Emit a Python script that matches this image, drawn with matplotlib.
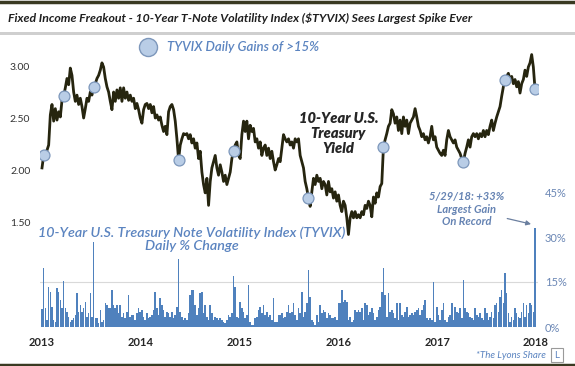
import numpy as np
import matplotlib
matplotlib.use("Agg")
import matplotlib.pyplot as plt
from matplotlib.lines import Line2D
from matplotlib.patches import Rectangle

plt.rcParams["font.family"] = ["Lato", "DejaVu Sans"]

# 10-year yield, roughly weekly (May 2013 -> May 2018)
yield_2013_14 = [
    2.02, 2.14, 2.11, 2.19, 2.24, 2.53, 2.63, 2.47, 2.59, 2.48, 2.56, 2.51, 2.67, 2.71, 2.79, 2.88, 2.82,
    2.98, 2.91, 2.75, 2.66, 2.72, 2.63, 2.69, 2.61, 2.50, 2.59, 2.69, 2.66, 2.75, 2.72, 2.80, 2.83, 2.88,
    2.91, 2.96, 3.03, 2.99, 2.88, 2.80, 2.75, 2.66, 2.58, 2.75, 2.66, 2.77, 2.69, 2.79, 2.66, 2.79, 2.69,
    2.75, 2.67, 2.72, 2.66, 2.69, 2.59, 2.64, 2.58, 2.50, 2.45, 2.58, 2.63, 2.64, 2.59, 2.63, 2.55, 2.61,
    2.50, 2.53, 2.48, 2.51, 2.43, 2.37, 2.42, 2.34, 2.56, 2.61, 2.63, 2.58, 2.47, 2.30, 2.10, 2.24, 2.30,
    2.35, 2.34, 2.35, 2.30, 2.34, 2.26, 2.30, 2.21, 2.26, 2.11, 2.18, 1.98, 1.86, 1.78,
]
yield_2015_16 = [
    1.92, 1.66, 1.89, 2.02, 2.08, 2.14, 2.02, 1.95, 2.05, 1.98, 1.89, 1.95, 1.86, 1.92, 1.98, 2.11, 2.18,
    2.24, 2.27, 2.14, 2.11, 2.34, 2.47, 2.37, 2.47, 2.30, 2.43, 2.37, 2.40, 2.27, 2.30, 2.21, 2.27, 2.14,
    2.21, 2.24, 2.14, 2.21, 2.11, 2.18, 2.08, 2.00, 2.05, 2.11, 2.08, 2.21, 2.34, 2.30, 2.27, 2.30, 2.24,
    2.27, 2.21, 2.30, 2.27, 2.30, 2.14, 2.08, 2.02, 1.89, 1.82, 1.73, 1.65, 1.79, 1.92, 1.86, 1.95, 1.89,
    1.92, 1.82, 1.89, 1.86, 1.76, 1.89, 1.79, 1.82, 1.73, 1.79, 1.70, 1.76, 1.66, 1.60, 1.70, 1.66, 1.54,
    1.38, 1.54, 1.60, 1.54, 1.60, 1.54, 1.57, 1.54, 1.60, 1.57, 1.66, 1.63, 1.70, 1.66,
]
yield_2017_18 = [
    1.55, 1.74, 1.68, 1.78, 1.74, 1.84, 1.87, 2.22, 2.29, 2.35, 2.42, 2.45, 2.58, 2.54, 2.45, 2.51, 2.38,
    2.48, 2.35, 2.51, 2.42, 2.48, 2.35, 2.45, 2.48, 2.51, 2.59, 2.51, 2.42, 2.38, 2.32, 2.35, 2.29, 2.32,
    2.26, 2.32, 2.42, 2.29, 2.32, 2.22, 2.19, 2.16, 2.14, 2.19, 2.14, 2.29, 2.38, 2.32, 2.29, 2.26, 2.29,
    2.22, 2.19, 2.16, 2.11, 2.08, 2.16, 2.22, 2.29, 2.22, 2.32, 2.35, 2.32, 2.35, 2.30, 2.35, 2.32, 2.38,
    2.32, 2.38, 2.34, 2.42, 2.48, 2.38, 2.45, 2.51, 2.56, 2.61, 2.71, 2.80, 2.87, 2.90, 2.93, 2.87, 2.90,
    2.83, 2.87, 2.80, 2.85, 2.74, 2.83, 2.87, 2.96, 2.90, 2.99, 3.03, 3.11, 2.99, 2.78,
]

# TYVIX daily % change (biggest move in each week), same sampling
tyvix_2013_14 = [
    6.0, 19.6, 6.2, 2.3, 13.4, 11.8, 6.8, 2.3, 1.8, 12.9, 11.8, 9.0, 6.2, 15.5, 6.2, 5.1, 3.4,
    1.8, 2.3, 2.9, 4.0, 11.2, 5.1, 7.3, 5.1, 6.2, 8.4, 3.4, 4.6, 11.2, 3.4, 28.5, 2.9, 2.9,
    1.2, 5.7, 1.8, 2.3, 7.9, 7.3, 6.2, 6.2, 12.3, 7.3, 6.2, 7.3, 4.6, 7.3, 3.4, 4.6, 2.9,
    5.1, 10.7, 3.4, 4.0, 4.0, 2.3, 4.6, 6.2, 5.1, 5.7, 3.4, 2.3, 4.6, 2.9, 3.4, 4.0, 5.7,
    11.8, 6.2, 4.0, 9.6, 7.3, 5.7, 3.4, 5.1, 4.6, 3.4, 5.1, 2.9, 4.0, 6.8, 22.6, 5.1, 3.4,
    2.3, 2.9, 2.3, 4.6, 10.7, 12.3, 12.3, 7.3, 4.0, 6.2, 11.2, 11.8, 4.6, 7.3,
]
tyvix_2015_16 = [
    3.4, 2.3, 7.3, 4.6, 2.3, 3.4, 2.9, 2.3, 2.9, 2.3, 1.8, 1.2, 2.3, 4.0, 3.4, 4.6, 17.0,
    13.4, 3.4, 2.9, 8.4, 6.2, 5.1, 2.9, 4.0, 14.0, 1.8, 0.7, 0.7, 2.9, 3.4, 5.7, 6.8, 4.6,
    7.3, 4.0, 5.1, 3.4, 4.0, 2.3, 9.6, 1.8, 1.8, 4.0, 4.0, 4.6, 2.9, 3.4, 5.1, 7.3, 4.6,
    5.1, 7.9, 4.0, 2.3, 6.2, 4.6, 11.8, 3.4, 5.1, 7.9, 19.0, 10.1, 2.3, 1.8, 0.7, 4.0, 1.8,
    7.3, 4.6, 5.7, 5.1, 2.9, 4.6, 4.0, 2.9, 2.9, 3.4, 2.3, 7.9, 7.9, 12.3, 8.4, 9.0, 8.4,
    2.3, 3.4, 1.8, 2.3, 5.7, 5.1, 5.7, 5.1, 6.2, 2.3, 7.9, 7.3, 4.0, 5.1,
]
tyvix_2017_18 = [
    6.2, 4.6, 2.3, 3.4, 5.7, 6.8, 11.8, 19.6, 10.7, 3.4, 11.2, 5.1, 5.7, 4.6, 2.9, 7.9, 2.3,
    7.9, 4.0, 3.4, 5.1, 6.8, 3.4, 4.0, 4.6, 4.0, 5.1, 5.7, 6.2, 4.0, 5.7, 7.3, 9.0, 2.9,
    2.3, 2.9, 2.3, 14.9, 1.8, 6.8, 4.0, 2.3, 5.7, 7.9, 2.3, 1.8, 3.4, 4.0, 7.9, 2.3, 6.8,
    5.1, 4.6, 6.2, 2.9, 15.7, 6.2, 5.1, 4.6, 3.4, 2.9, 2.3, 6.2, 4.0, 3.4, 4.6, 2.9, 2.3,
    6.2, 4.6, 2.3, 3.4, 5.1, 2.9, 7.3, 7.9, 5.1, 10.1, 12.3, 7.9, 18.1, 11.2, 4.6, 1.8, 3.4,
    2.3, 6.2, 4.6, 3.4, 2.9, 5.1, 7.9, 3.4, 7.3, 4.6, 7.9, 7.3, 5.1, 33.0,
]

year_labels = ["2013", "2014", "2015", "2016", "2017", "2018"]
spike_threshold = 15.0

yields = np.array(yield_2013_14 + yield_2015_16 + yield_2017_18)
tyvix = np.array(tyvix_2013_14 + tyvix_2015_16 + tyvix_2017_18)
t = np.linspace(0, 4.99, len(yields))  # years since the "2013" label
step = t[1] - t[0]
spikes = tyvix > spike_threshold

blue_txt = "#5b84c0"
dot_face, dot_edge = "#b9cde6", "#7d97bb"

fig = plt.figure(figsize=(5.75, 3.66), dpi=100)
ax = fig.add_axes([40 / 575, 39 / 366, 498 / 575, 287 / 366])
ax2 = ax.twinx()

ax2.bar(t, tyvix, width=step * 0.95, color="#4f81bd", edgecolor="none", zorder=1)
ax2.axhline(15, color="#d9d9d9", lw=0.8, zorder=0)
ax2.set_ylim(0, 287 / 3)
ax2.set_yticks([0, 15, 30, 45])
ax2.set_yticklabels(["0%", "15%", "30%", "45%"])
ax2.tick_params(axis="y", length=0, pad=5, labelsize=8, labelcolor="#6b87b5")

ax.set_zorder(ax2.get_zorder() + 1)
ax.patch.set_visible(False)
ax.plot(t, yields, color="#26250f", lw=2.0, zorder=3)
ax.scatter(t[spikes], yields[spikes], s=62, color=dot_face, edgecolor=dot_edge,
           linewidth=0.9, zorder=4)
ax.set_ylim(3.0 - 261 / 104, 3.0 + 26 / 104)
ax.set_yticks([1.5, 2.0, 2.5, 3.0])
ax.set_yticklabels(["1.50", "2.00", "2.50", "3.00"])
ax.tick_params(axis="y", length=0, pad=7, labelsize=7.5, labelcolor="#333333")
ax.set_xlim(-2 / 98.8, 5 + 2 / 98.8)
ax.set_xticks(range(6))
ax.set_xticklabels(year_labels, fontweight="bold")
ax.tick_params(axis="x", length=0, pad=7, labelsize=8, labelcolor="#262626")
for a in (ax, ax2):
    for s in a.spines.values():
        s.set_visible(False)

# annotations
ax.text(3.0, 2.35, "10-Year U.S.\nTreasury\nYield", ha="center", va="center",
        fontsize=10.5, style="italic", fontweight=800, color="#262626", linespacing=1.15)
ax2.text(1.52, 29.3, "10-Year U.S. Treasury Note Volatility Index (TYVIX)\nDaily % Change",
         ha="center", va="center", fontsize=10.3, style="italic", fontweight=600,
         color=blue_txt, linespacing=1.1)
ax2.annotate("5/29/18: +33%\nLargest Gain\nOn Record", xy=(4.95, 34.3), xytext=(4.30, 39.3),
             ha="center", va="center", fontsize=8, style="italic", fontweight=700,
             color="#6583b3", linespacing=1.2,
             arrowprops=dict(arrowstyle="-|>", color="#6b7f9f", lw=0.9,
                             shrinkA=22, shrinkB=0, mutation_scale=7))

# legend
fig.add_artist(Line2D([148 / 575], [1 - 47 / 366], marker="o", markersize=13,
                      markerfacecolor=dot_face, markeredgecolor=dot_edge, markeredgewidth=1))
fig.text(167 / 575, 1 - 47 / 366, "TYVIX Daily Gains of >15%", ha="left", va="center",
         fontsize=9.5, style="italic", fontweight=600, color=blue_txt)

# header / footer
fig.add_artist(Line2D([0, 1], [1 - 1.5 / 366] * 2, color="#3a3a22", lw=2.5))
fig.add_artist(Rectangle((0, 1 - 35 / 366), 1, 3 / 366, color="#cfcfcf", lw=0))
fig.text(8 / 575, 1 - 18 / 366,
         "Fixed Income Freakout - 10-Year T-Note Volatility Index ($TYVIX) Sees Largest Spike Ever",
         ha="left", va="center", fontsize=8.8, style="italic", fontweight=700, color="#1f1f1f")
fig.add_artist(Line2D([0, 1], [1.5 / 366] * 2, color="#3a3a22", lw=2.5))
fig.text(546 / 575, 1 - 355 / 366, "*The Lyons Share", ha="right", va="center",
         fontsize=7, style="italic", color=blue_txt)
fig.add_artist(Rectangle((551 / 575, 1 - 362 / 366), 12 / 575, 14 / 366, fill=False,
                         edgecolor="#9a9a9a", lw=0.8))
fig.text(557 / 575, 1 - 355 / 366, "L", ha="center", va="center", fontsize=7, color=blue_txt)

fig.savefig("out.png", dpi=100)
